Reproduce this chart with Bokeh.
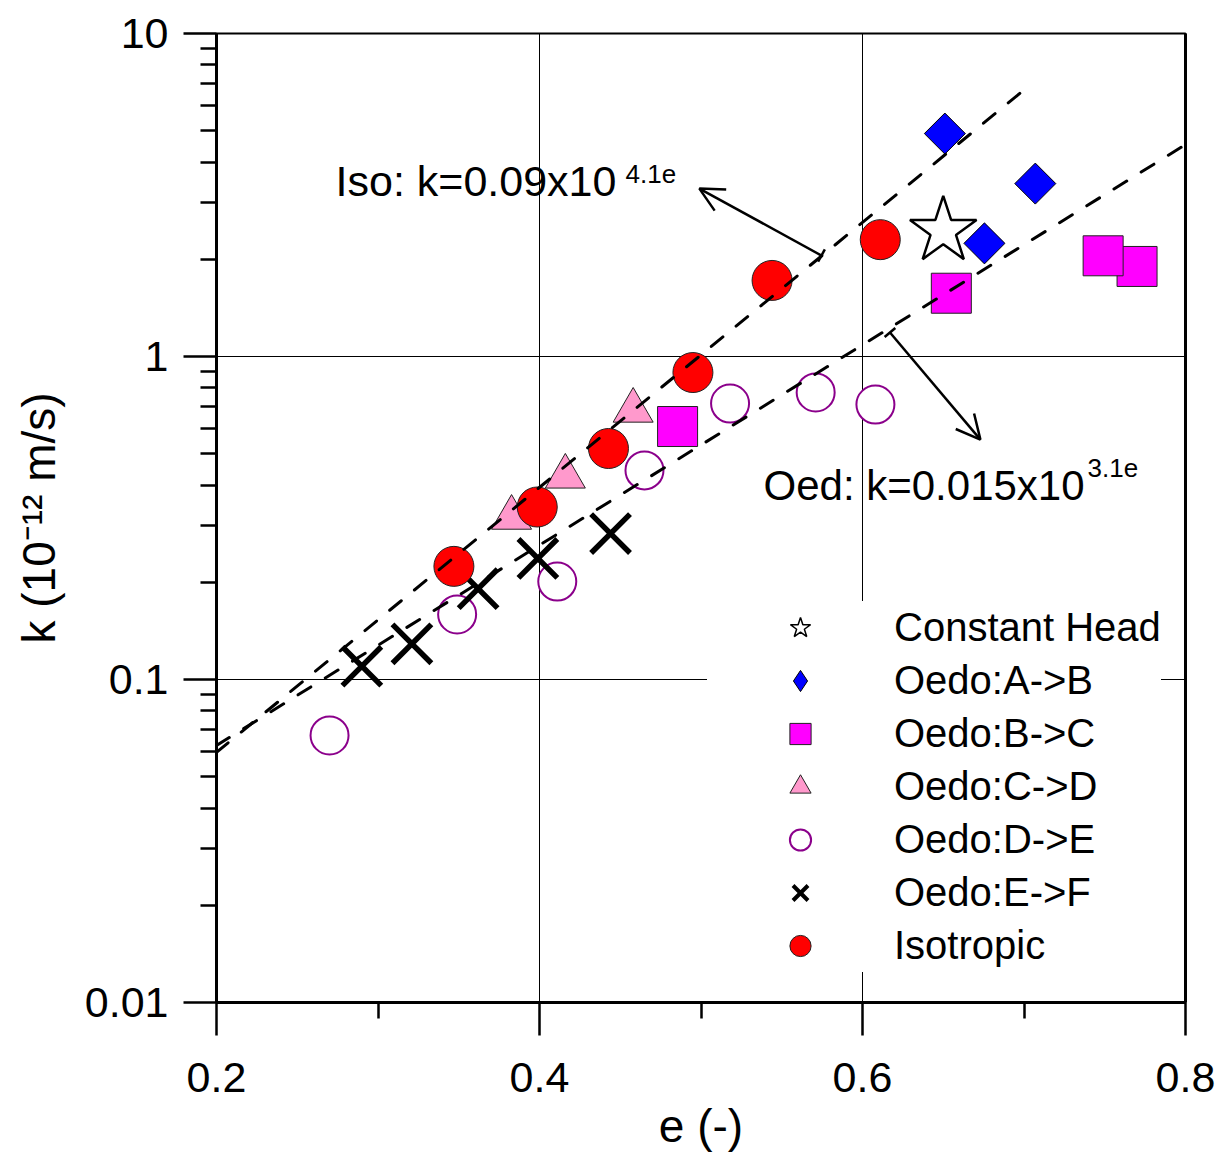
from bokeh.plotting import figure
from bokeh.models import (Range1d, LogAxis, FixedTicker, CustomJSTickFormatter,
                          Arrow, OpenHead, TeeHead, Legend, LegendItem)
from bokeh.core.properties import value
from bokeh.embed import file_html
from bokeh.resources import INLINE

FONT = "Liberation Sans"

# ---- data ----
const_head_e = [0.650]
const_head_k = [2.45]

oedo_ab_e = [0.651, 0.707, 0.6755]
oedo_ab_k = [4.90, 3.43, 2.24]

oedo_bc_e = [0.770, 0.749, 0.655, 0.4855]
oedo_bc_k = [1.90, 2.05, 1.57, 0.607]

oedo_cd_e = [0.3827, 0.416, 0.458]
oedo_cd_k = [0.317, 0.425, 0.680]

oedo_de_e = [0.270, 0.349, 0.411, 0.465, 0.518, 0.571, 0.608]
oedo_de_k = [0.0671, 0.159, 0.201, 0.444, 0.715, 0.774, 0.710]

oedo_ef_e = [0.290, 0.321, 0.362, 0.399, 0.444]
oedo_ef_k = [0.110, 0.129, 0.191, 0.237, 0.283]

iso_e = [0.347, 0.3986, 0.4427, 0.495, 0.544, 0.611]
iso_k = [0.224, 0.342, 0.519, 0.892, 1.72, 2.30]

# fitted trend lines (end points)
iso_fit_e = [0.2, 0.701]
iso_fit_k = [0.0595, 6.75]
oed_fit_e = [0.2, 0.8]
oed_fit_k = [0.0625, 4.53]

legend_labels = ["Constant Head", "Oedo:A->B", "Oedo:B->C", "Oedo:C->D",
                 "Oedo:D->E", "Oedo:E->F", "Isotropic"]

x_major = [0.2, 0.4, 0.6, 0.8]
x_minor = [0.3, 0.5, 0.7]
y_major = [0.01, 0.1, 1, 10]
y_minor = [m * d for d in (0.01, 0.1, 1) for m in range(2, 10)]

p = figure(frame_width=969, frame_height=969, y_axis_type="log",
           x_range=Range1d(0.2, 0.8), y_range=Range1d(0.01, 10),
           output_backend="svg", toolbar_location=None,
           min_border_left=216, min_border_top=33, min_border_right=30,
           min_border_bottom=130, background_fill_color="white")

p.outline_line_color = "black"
p.outline_line_width = 2

# axes
xt = FixedTicker(ticks=x_major, minor_ticks=x_minor)
yt = FixedTicker(ticks=y_major, minor_ticks=y_minor)
p.xaxis.ticker = xt
p.yaxis.ticker = yt
p.yaxis.formatter = CustomJSTickFormatter(code="return String(parseFloat(tick.toPrecision(6)))")
p.xaxis.formatter = CustomJSTickFormatter(code="return tick.toFixed(1)")
for ax in (p.xaxis[0], p.yaxis[0]):
    ax.axis_line_width = 3
    ax.axis_line_color = "black"
    ax.major_tick_in = 0
    ax.minor_tick_in = 0
    ax.major_tick_out = 33
    ax.minor_tick_out = 16
    ax.major_tick_line_width = 2.5
    ax.minor_tick_line_width = 2.5
    ax.major_tick_line_color = "black"
    ax.minor_tick_line_color = "black"
    ax.major_label_text_font = FONT
    ax.major_label_text_font_size = "43px"
    ax.major_label_text_color = "black"
    ax.axis_label_text_font = FONT
    ax.axis_label_text_font_size = "46px"
    ax.axis_label_text_font_style = "normal"
    ax.axis_label_text_color = "black"

p.xaxis.axis_label = "e (-)"
p.xaxis.major_label_standoff = 27
p.xaxis.axis_label_standoff = 5
p.yaxis.axis_label = "k (10\u207b\u00b9\u00b2 m/s)"
p.yaxis.major_label_standoff = 15
p.yaxis.axis_label_standoff = 17

right = LogAxis(ticker=FixedTicker(ticks=[]), axis_line_width=3, axis_line_color="black",
                major_tick_out=0, major_tick_in=0, minor_tick_out=0, minor_tick_in=0)
p.add_layout(right, "right")

# grid
p.xgrid.ticker = xt
p.ygrid.ticker = yt
for g in (p.xgrid[0], p.ygrid[0]):
    g.grid_line_color = "black"
    g.grid_line_width = 1
    g.grid_line_alpha = 1

# markers
r_ch = p.scatter(const_head_e, const_head_k, marker="star", size=70,
                 fill_color="white", line_color="black", line_width=2.5)
r_ab = p.scatter(oedo_ab_e, oedo_ab_k, marker="square", angle=0.785398, size=29,
                 fill_color="#0000FF", line_color="black", line_width=1)
r_bc = p.scatter(oedo_bc_e, oedo_bc_k, marker="square", size=40,
                 fill_color="#FF00FF", line_color="#222222", line_width=1)
r_cd = p.scatter(oedo_cd_e, oedo_cd_k, marker="triangle", size=40,
                 fill_color="#FF99CC", line_color="#222222", line_width=1)
r_de = p.scatter(oedo_de_e, oedo_de_k, marker="circle", size=38,
                 fill_color="white", line_color="#8B008B", line_width=2)
r_ef = p.scatter(oedo_ef_e, oedo_ef_k, marker="x", size=55,
                 line_color="black", line_width=5.5)
r_iso = p.scatter(iso_e, iso_k, marker="circle", size=40,
                  fill_color="#FF0000", line_color="#222222", line_width=1)

# legend-only twins (hidden in the plot; legend glyphs are never rotated)
r_ch_leg = p.scatter(const_head_e, const_head_k, marker="star", size=70, visible=False,
                     fill_color="white", line_color="black", line_width=1.5)
r_ab_leg = p.scatter(oedo_ab_e, oedo_ab_k, marker="diamond", size=29, visible=False,
                     fill_color="#0000FF", line_color="black", line_width=1)
r_ef_leg = p.scatter(oedo_ef_e, oedo_ef_k, marker="x", size=55, visible=False,
                     line_color="black", line_width=4)

# trend lines
p.line(iso_fit_e, iso_fit_k, line_color="black", line_width=3, line_dash="15 17", line_cap="round")
p.line(oed_fit_e, oed_fit_k, line_color="black", line_width=3, line_dash="15 17", line_cap="round")

# arrows
iso_arrow = dict(x_start=0.5746, y_start=2.054, x_end=0.499, y_end=3.31)
oed_arrow = dict(x_start=0.617, y_start=1.187, x_end=0.673, y_end=0.553)
for a in (iso_arrow, oed_arrow):
    p.add_layout(Arrow(start=TeeHead(size=14, line_width=2.5),
                       end=OpenHead(size=24, line_width=2.5),
                       line_width=2.5, **a))

# annotations
ann_e = [0.2737, 0.5387]
ann_k = [3.13, 0.358]
ann_main = ["Iso: k=0.09x10", "Oed: k=0.015x10"]
ann_sup = ["4.1e", "3.1e"]
ann_size = ["43px", "42px"]
ann_sup_dx = [290, 324]
ann_sup_dy = [-22, -33]
for i in range(2):
    p.text(x=[ann_e[i]], y=[ann_k[i]], text=[ann_main[i]], y_offset=-15,
           text_font=value(FONT), text_font_size=ann_size[i],
           text_baseline="alphabetic", text_align="left", text_color="black")
    p.text(x=[ann_e[i]], y=[ann_k[i]], text=[ann_sup[i]],
           x_offset=ann_sup_dx[i], y_offset=ann_sup_dy[i],
           text_font=value(FONT), text_font_size="26px", text_baseline="alphabetic",
           text_align="left", text_color="black")

# legend
renderers = [r_ch_leg, r_ab_leg, r_bc, r_cd, r_de, r_ef_leg, r_iso]
legend = Legend(items=[LegendItem(label=l, renderers=[r]) for l, r in zip(legend_labels, renderers)],
                location=(491, 30), margin=0, padding=0, spacing=0,
                glyph_width=186, glyph_height=53, label_standoff=1,
                label_text_font=FONT, label_text_font_size="40px",
                label_text_color="black",
                background_fill_color="white", background_fill_alpha=1,
                inactive_fill_alpha=0,
                border_line_color=None)
p.add_layout(legend)

open("out.html", "w").write(file_html(p, INLINE))
